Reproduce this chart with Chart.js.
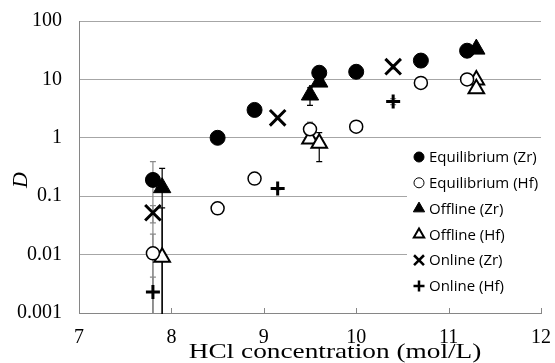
<!DOCTYPE html>
<html>
<head>
<meta charset="utf-8">
<script src="https://cdn.jsdelivr.net/npm/chart.js@4/dist/chart.umd.min.js"></script>
<style>
  body { margin: 0; background: #fff; }
  #wrap { width: 555px; height: 363px; }
</style>
</head>
<body>
<div id="wrap"><canvas id="c" width="555" height="363"></canvas></div>
<script>
// HCl concentration (mol/L) et coefficient D, une liste par série
const concEqZr = [7.8, 8.5, 8.9, 9.6, 10.0, 10.7, 11.2];
const dEqZr    = [0.19, 1.0, 3.0, 13, 13.5, 21, 31];
const errEqZr  = [0.2, 0.05, 0.15, 0.6, 0.6, 1, 1.5];

const concEqHf = [7.8, 8.5, 8.9, 9.5, 10.0, 10.7, 11.2];
const dEqHf    = [0.0105, 0.062, 0.2, 1.4, 1.55, 8.7, 10];
const errEqHf  = [0.012, 0.003, 0.01, 0.45, 0.08, 0.4, 0.5];

const concOffZr = [7.9, 9.5, 9.6, 11.3];
const dOffZr    = [0.14, 5.4, 9.0, 33];
const errOffZr  = [0.16, 1.8, 0.3, 1];

const concOffHf = [7.9, 9.5, 9.6, 11.3, 11.3];
const dOffHf    = [0.009, 0.95, 0.81, 9.8, 6.9];
const errOffHf  = [0.054, 0.1, 0.42, 0.3, 0.3];

const concOnZr = [7.8, 9.15, 10.4];
const dOnZr    = [0.052, 2.2, 16.5];
const errOnZr  = [0.017, 0.1, 1.5];

const concOnHf = [7.8, 9.15, 10.4];
const dOnHf    = [0.0023, 0.135, 4.2];
const errOnHf  = [0.0018, 0.005, 0.5];

const yTicks = [0.001, 0.01, 0.1, 1, 10, 100];
const xTicks = [7, 8, 9, 10, 11, 12];

const pts = (xs, ys) => xs.map((x, i) => ({ x: x, y: ys[i] }));

// Barres d'erreur verticales (dessinées sous les marqueurs)
const errorBars = {
    id: 'errorBars',
    beforeDatasetsDraw(chart) {
        const { ctx, chartArea, scales: { x, y } } = chart;
        ctx.save();
        ctx.beginPath();
        ctx.rect(chartArea.left, chartArea.top, chartArea.right - chartArea.left, chartArea.bottom - chartArea.top + 1);
        ctx.clip();
        chart.data.datasets.forEach(ds => {
            if (!ds.errors) return;
            ctx.strokeStyle = ds.errorColor;
            ctx.lineWidth = 1.2;
            ds.data.forEach((p, i) => {
                const e = ds.errors[i];
                const px = x.getPixelForValue(p.x);
                const top = y.getPixelForValue(p.y + e);
                const low = p.y - e;
                const bot = low > 0 ? y.getPixelForValue(low) : chartArea.bottom + 5;
                ctx.beginPath();
                ctx.moveTo(px, top); ctx.lineTo(px, bot);
                ctx.moveTo(px - 3, top); ctx.lineTo(px + 3, top);
                if (low > 0) { ctx.moveTo(px - 3, bot); ctx.lineTo(px + 3, bot); }
                ctx.stroke();
            });
        });
        ctx.restore();
    }
};

// Titres, graduations intérieures de l'axe x et légende encadrée
const decor = {
    id: 'decor',
    afterDraw(chart) {
        const { ctx, chartArea, scales: { x } } = chart;
        ctx.save();
        // graduations vers l'intérieur
        ctx.strokeStyle = '#868686';
        ctx.lineWidth = 1;
        xTicks.forEach(v => {
            const px = Math.round(x.getPixelForValue(v)) + 0.5;
            ctx.beginPath();
            ctx.moveTo(px, chartArea.bottom);
            ctx.lineTo(px, chartArea.bottom - 5);
            ctx.stroke();
        });

        // légende
        ctx.fillStyle = '#fff';
        ctx.fillRect(407, 142, 137, 158);
        ctx.font = '15px "Open Sans"';
        ctx.textBaseline = 'middle';
        chart.data.datasets.forEach((ds, i) => {
            const cy = 157 + i * 25.8;
            ctx.fillStyle = ds.backgroundColor;
            ctx.strokeStyle = '#000';
            ctx.lineWidth = ds.legendWidth;
            Chart.helpers.drawPoint(ctx, {
                pointStyle: ds.pointStyle, radius: ds.legendRadius,
                borderWidth: ds.legendWidth, rotation: 0
            }, 419, cy);
            ctx.fillStyle = '#000';
            ctx.fillText(ds.label, 429, cy + 1);
        });

        // titres des axes
        ctx.fillStyle = '#000';
        ctx.textAlign = 'center';
        ctx.font = '21px "Liberation Serif"';
        ctx.save();
        ctx.translate(335, 352);
        ctx.scale(1.3, 1);
        ctx.fillText('HCl concentration (mol/L)', 0, 0);
        ctx.restore();
        ctx.translate(21, 180);
        ctx.rotate(-Math.PI / 2);
        ctx.font = 'italic 22px "Liberation Serif"';
        ctx.fillText('D', 0, 0);
        ctx.restore();
    }
};

new Chart(document.getElementById('c'), {
    type: 'scatter',
    data: {
        datasets: [
            { label: 'Equilibrium (Zr)', data: pts(concEqZr, dEqZr), errors: errEqZr, errorColor: '#8a8a8a',
              pointStyle: 'circle', pointRadius: 7.5, backgroundColor: '#000', borderColor: '#000', borderWidth: 1,
              legendRadius: 5, legendWidth: 1 },
            { label: 'Equilibrium (Hf)', data: pts(concEqHf, dEqHf), errors: errEqHf, errorColor: '#8a8a8a',
              pointStyle: 'circle', pointRadius: 6.5, backgroundColor: '#fff', borderColor: '#000', borderWidth: 1.5,
              legendRadius: 5, legendWidth: 1 },
            { label: 'Offline (Zr)', data: pts(concOffZr, dOffZr), errors: errOffZr, errorColor: '#000',
              pointStyle: 'triangle', pointRadius: 10, backgroundColor: '#000', borderColor: '#000', borderWidth: 1,
              legendRadius: 6.5, legendWidth: 1 },
            { label: 'Offline (Hf)', data: pts(concOffHf, dOffHf), errors: errOffHf, errorColor: '#000',
              pointStyle: 'triangle', pointRadius: 9, backgroundColor: '#fff', borderColor: '#000', borderWidth: 2,
              legendRadius: 6, legendWidth: 2 },
            { label: 'Online (Zr)', data: pts(concOnZr, dOnZr), errors: errOnZr, errorColor: '#8a8a8a',
              pointStyle: 'crossRot', pointRadius: 11, backgroundColor: '#000', borderColor: '#000', borderWidth: 3,
              legendRadius: 7, legendWidth: 2.5 },
            { label: 'Online (Hf)', data: pts(concOnHf, dOnHf), errors: errOnHf, errorColor: '#8a8a8a',
              pointStyle: 'cross', pointRadius: 7, backgroundColor: '#000', borderColor: '#000', borderWidth: 3,
              legendRadius: 5.5, legendWidth: 2.5 }
        ]
    },
    options: {
        responsive: false,
        animation: false,
        devicePixelRatio: 1,
        layout: { padding: { top: 21, right: 8, left: 0, bottom: 0 } },
        plugins: { legend: { display: false }, tooltip: { enabled: false } },
        scales: {
            x: {
                type: 'linear', min: 7, max: 12,
                afterBuildTicks: (s) => { s.ticks = xTicks.map(v => ({ value: v })); },
                afterFit: (s) => { s.height = 50; s.paddingLeft = 0; s.paddingRight = 0; },
                grid: { display: false },
                border: { color: '#868686', width: 1 },
                ticks: { color: '#000', font: { family: '"Liberation Serif"', size: 20 }, padding: 5 }
            },
            y: {
                type: 'logarithmic', min: 0.001, max: 100,
                afterBuildTicks: (s) => { s.ticks = yTicks.map(v => ({ value: v })); },
                afterFit: (s) => { s.width = 79; s.paddingTop = 0; s.paddingBottom = 0; },
                grid: { color: '#a6a6a6', drawTicks: false },
                border: { color: '#868686', width: 1 },
                ticks: {
                    color: '#000', font: { family: '"Liberation Serif"', size: 20 }, padding: 17,
                    callback: (v) => String(v)
                }
            }
        }
    },
    plugins: [errorBars, decor]
});
</script>
</body>
</html>
